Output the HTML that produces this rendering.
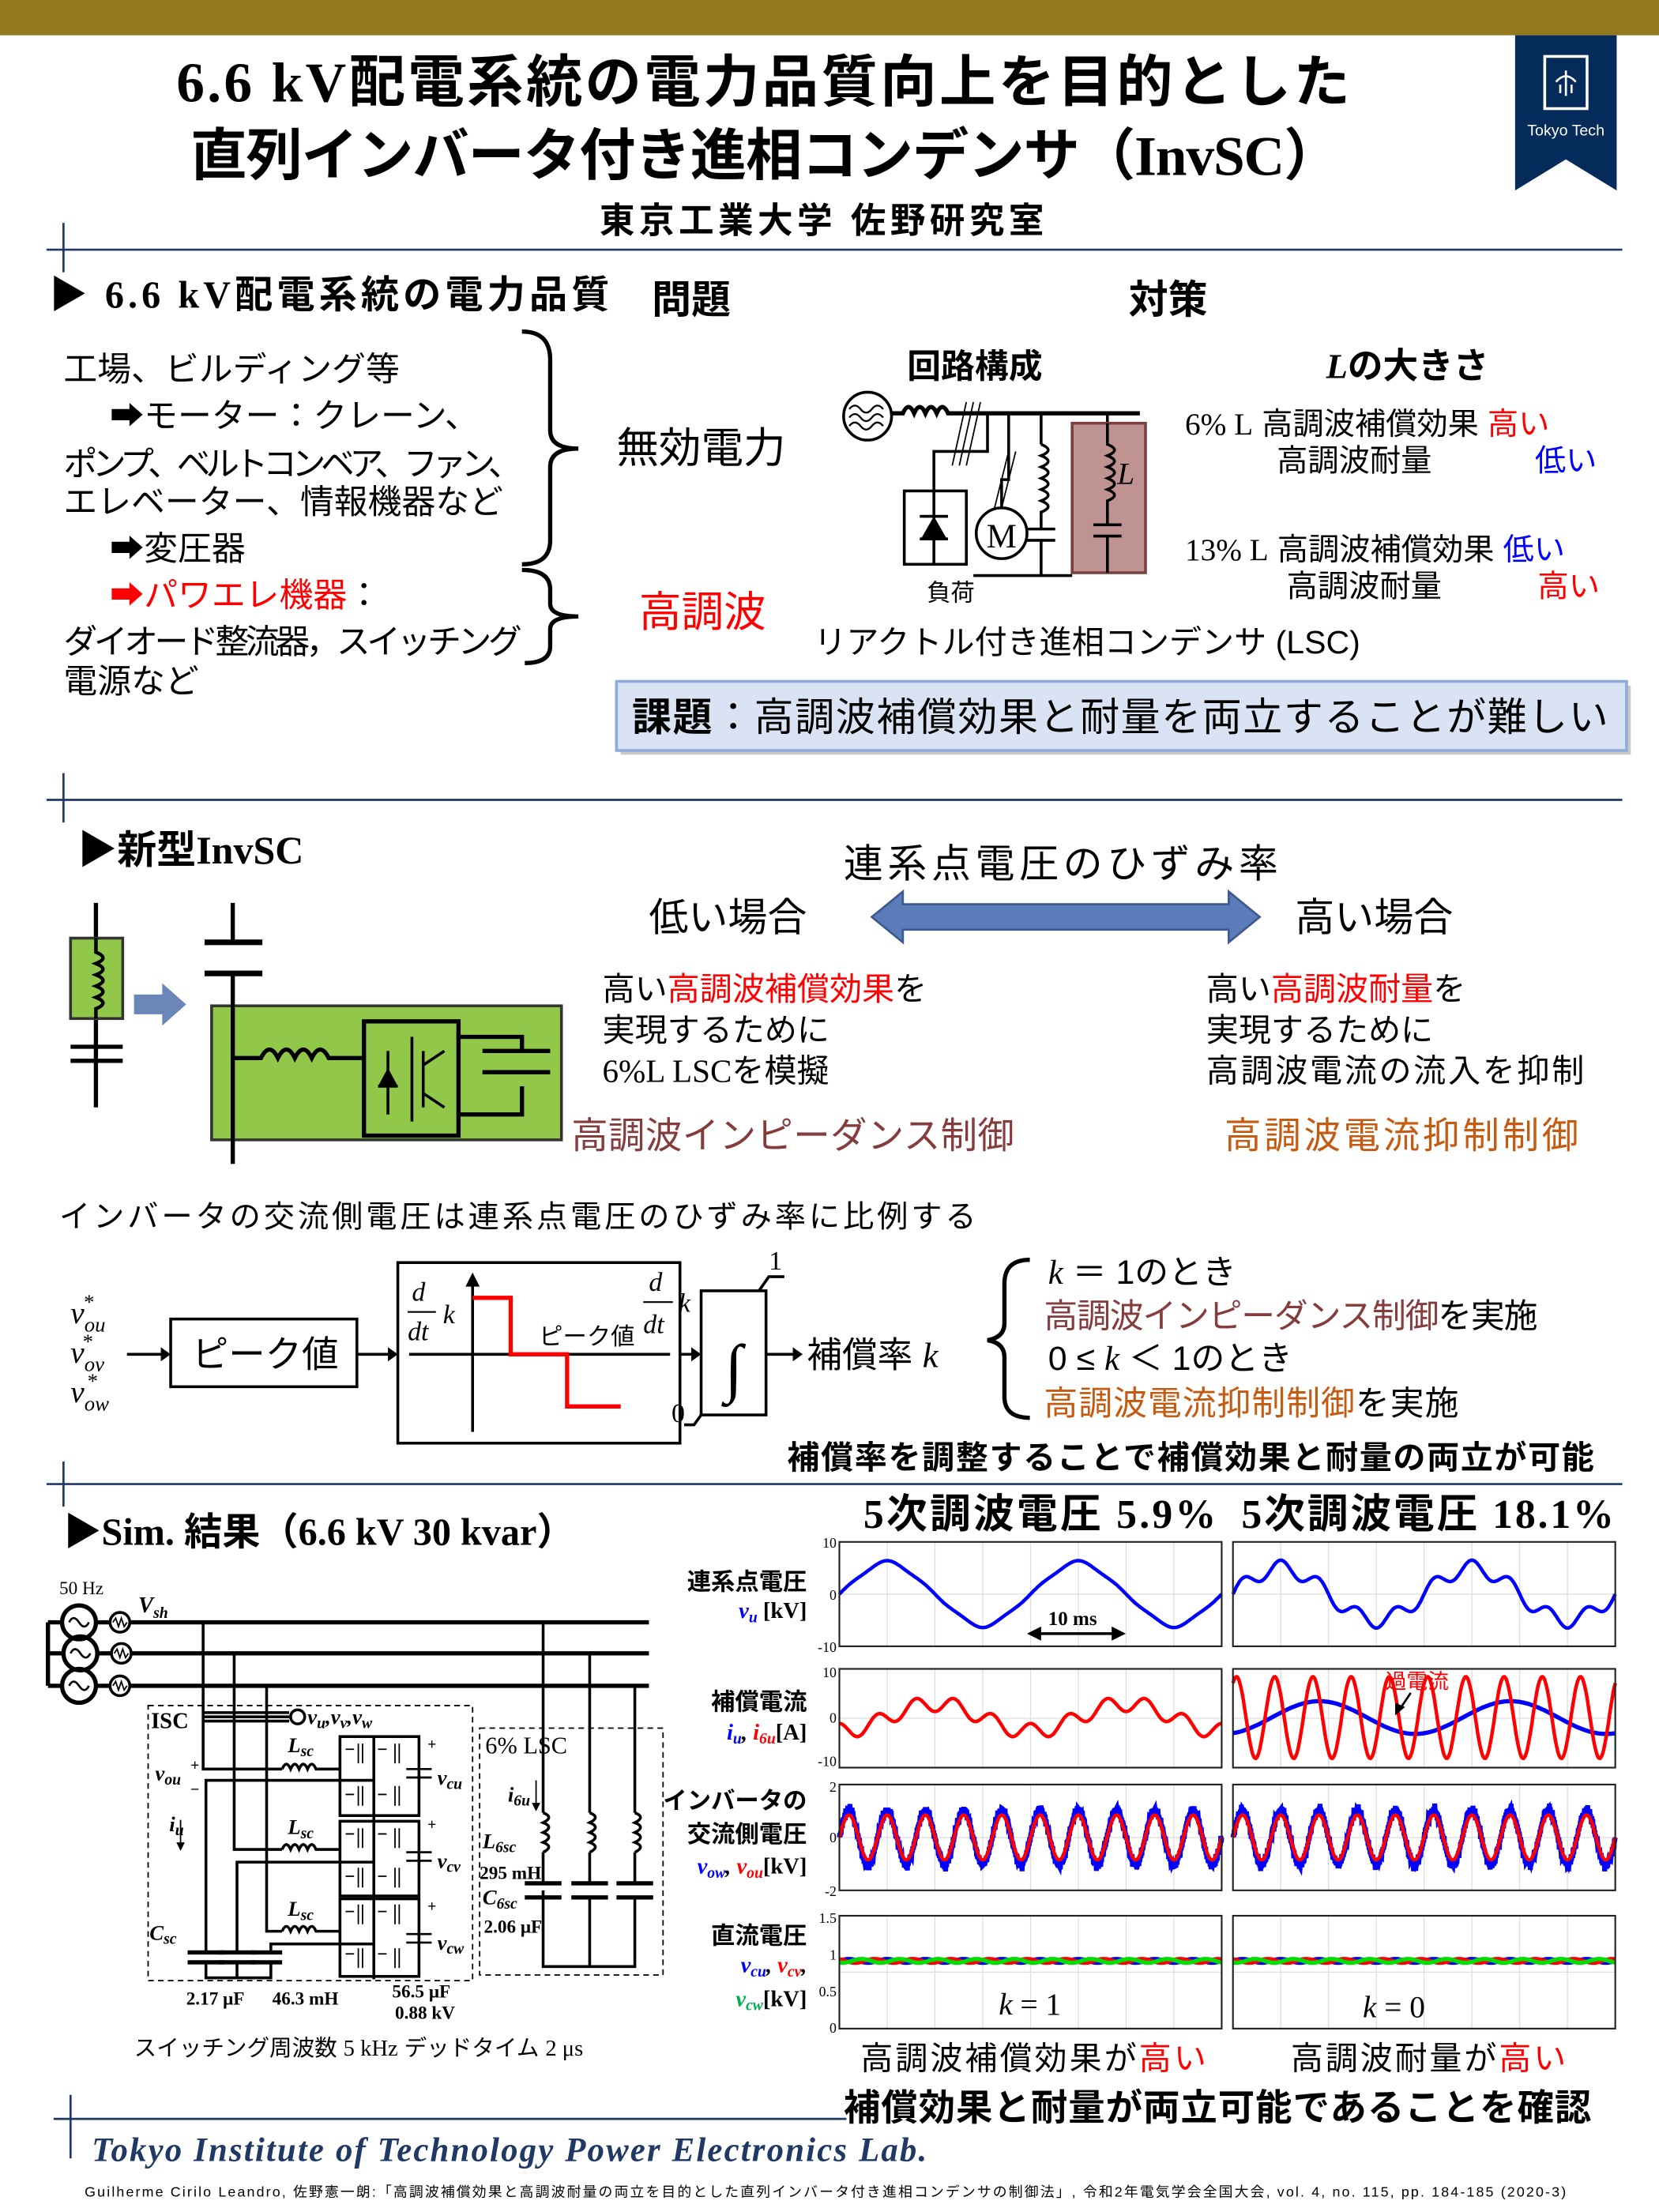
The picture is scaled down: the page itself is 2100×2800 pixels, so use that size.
<!DOCTYPE html>
<html><head><meta charset="utf-8"><style>
html,body{margin:0;padding:0;background:#fff;}
svg{display:block;}
.j{font-family:"Liberation Sans","Noto Sans CJK JP",sans-serif;}
.s{font-family:"Liberation Serif","Noto Sans CJK JP",serif;}
.b{font-weight:bold;}
.i{font-style:italic;}
</style></head><body>
<svg id="root" width="2100" height="2800" viewBox="0 0 1176 1568" xmlns="http://www.w3.org/2000/svg">
<rect width="1176" height="1568" fill="#fff"/>
<rect x="0" y="0" width="1176" height="25" fill="#94781d"/>
<!-- logo -->
<polygon points="1074,25 1146,25 1146,135 1110,113 1074,135" fill="#052b5b"/>
<rect x="1095" y="40" width="30" height="37" fill="none" stroke="#fff" stroke-width="2"/>
<path d="M1110,50 L1110,68 M1103,58 Q1110,50 1117,58 M1106,60 L1106,66 M1114,60 L1114,66" stroke="#fff" stroke-width="1.5" fill="none"/>
<text x="1110" y="96" class="j" font-size="11" fill="#fff" text-anchor="middle">Tokyo Tech</text>
<!-- title -->
<text x="125" y="72" class="s b" font-size="40" textLength="832">6.6 kV配電系統の電力品質向上を目的とした</text>
<text x="135" y="124" class="s b" font-size="40" textLength="815">直列インバータ付き進相コンデンサ（InvSC）</text>
<text x="425" y="165" class="j b" font-size="25" textLength="315">東京工業大学 佐野研究室</text>
<!-- dividers -->
<g stroke="#1f3864" stroke-width="1.5">
<line x1="45" y1="158" x2="45" y2="193"/><line x1="33" y1="177" x2="1150" y2="177"/>
<line x1="45" y1="548" x2="45" y2="583"/><line x1="33" y1="567" x2="1150" y2="567"/>
<line x1="45" y1="1036" x2="45" y2="1068"/><line x1="33" y1="1052" x2="1150" y2="1052"/>
<line x1="50" y1="1485" x2="50" y2="1530"/><line x1="38" y1="1502" x2="600" y2="1502"/>
</g>
<!-- section 1 -->
<text x="35" y="218" class="s b" font-size="27" textLength="397">▶ 6.6 kV配電系統の電力品質</text>
<text x="462" y="222" class="j b" font-size="28">問題</text>
<text x="800" y="222" class="j b" font-size="28">対策</text>
<g class="j" font-size="24">
<text x="45" y="270">工場、ビルディング等</text>
<text x="78" y="303">➡モーター：クレーン、</text>
<text x="45" y="337" textLength="325">ポンプ、ベルトコンベア、ファン、</text>
<text x="45" y="364">エレベーター、情報機器など</text>
<text x="78" y="397">➡変圧器</text>
<text x="78" y="430" fill="#ff0000">➡パワエレ機器<tspan fill="#000">：</tspan></text>
<text x="45" y="463" textLength="325">ダイオード整流器，スイッチング</text>
<text x="45" y="491">電源など</text>
</g>
<path d="M370,235 Q390,235 390,255 L390,305 Q390,318 410,318 Q390,318 390,331 L390,383 Q390,400 370,400" fill="none" stroke="#000" stroke-width="3"/>
<path d="M370,404 Q390,404 390,418 L390,428 Q390,437 410,437 Q390,437 390,446 L390,458 Q390,470 372,470" fill="none" stroke="#000" stroke-width="3"/>
<text x="437" y="328" class="j" font-size="30">無効電力</text>
<text x="453" y="444" class="j" font-size="30" fill="#ff0000">高調波</text>
<!-- circuit 1 -->
<text x="643" y="268" class="j b" font-size="24">回路構成</text>
<g stroke="#000" stroke-width="2" fill="none">
<circle cx="615" cy="295" r="17"/>
<path d="M602,290 q4,-5 8,0 t8,0 t8,0 M602,296 q4,-5 8,0 t8,0 t8,0 M602,302 q4,-5 8,0 t8,0 t8,0" stroke-width="1.3"/>
<path d="M632,293 L640,293 q4,-9 8,0 q4,-9 8,0 q4,-9 8,0 q4,-9 8,0 L808,293" stroke-width="3"/>
<path d="M700,293 L700,320 L662,320 L662,348 M715,293 L715,340 L710,340 L710,360 M738,293 L738,315 M785,293 L785,300" stroke-width="2"/>
<path d="M685,285 L675,330 M690,285 L680,330 M695,285 L685,330 M715,320 L705,360 M720,320 L710,360" stroke-width="1"/>
<rect x="641" y="348" width="44" height="52"/>
<path d="M662,348 L662,400 M652,382 L672,382 M652,366 L672,366"/>
<polygon points="654,382 670,382 662,368" fill="#000"/>
<circle cx="710" cy="378" r="18"/>
<path d="M738,315 q10,4 0,8 q10,4 0,8 q10,4 0,8 q10,4 0,8 q10,4 0,8 q10,4 0,8 L738,375 M728,375 L748,375 M728,383 L748,383 M738,383 L738,408 M690,408 L760,408"/>
</g>
<text x="710" y="388" class="s" font-size="24" text-anchor="middle">M</text>
<rect x="760" y="300" width="52" height="106" fill="#c09393" stroke="#7b3f3f" stroke-width="2"/>
<g stroke="#000" stroke-width="2" fill="none">
<path d="M785,300 L785,315 q10,4 0,8 q10,4 0,8 q10,4 0,8 q10,4 0,8 q10,4 0,8 L785,372 M775,372 L795,372 M775,380 L795,380 M785,380 L785,406"/>
</g>
<text x="792" y="343" class="s i" font-size="22">L</text>
<text x="657" y="426" class="j" font-size="17">負荷</text>
<text x="577" y="463" class="j" font-size="23">リアクトル付き進相コンデンサ (LSC)</text>
<text x="940" y="268" class="j b" font-size="25"><tspan class="s i">L</tspan>の大きさ</text>
<g class="j" font-size="22">
<text x="840" y="308"><tspan class="s">6% L</tspan>  高調波補償効果 <tspan fill="#ff0000">高い</tspan></text>
<text x="905" y="334">高調波耐量</text><text x="1088" y="334" fill="#0000ff">低い</text>
<text x="840" y="397"><tspan class="s">13% L</tspan> 高調波補償効果 <tspan fill="#0000ff">低い</tspan></text>
<text x="912" y="423">高調波耐量</text><text x="1090" y="423" fill="#ff0000">高い</text>
</g>
<rect x="440" y="486" width="716" height="49" fill="#a6a6a6" opacity="0.6"/>
<rect x="437" y="483" width="716" height="49" fill="#dae3f3" stroke="#8faadc" stroke-width="2"/>
<text x="448" y="518" class="j" font-size="28" textLength="692"><tspan font-weight="bold">課題</tspan>：高調波補償効果と耐量を両立することが難しい</text>
<!-- section 2 -->
<text x="55" y="612" class="s b" font-size="28">▶新型InvSC</text>
<text x="598" y="622" class="j" font-size="28" textLength="308">連系点電圧のひずみ率</text>
<text x="460" y="660" class="j" font-size="28">低い場合</text>
<text x="918" y="660" class="j" font-size="28">高い場合</text>
<polygon points="618,650 640,632 640,641 871,641 871,632 893,650 871,668 871,659 640,659 640,668" fill="#5b7bb9" stroke="#3d5a8e" stroke-width="1.5"/>
<g class="j" font-size="23">
<text x="427" y="709">高い<tspan fill="#ff0000">高調波補償効果</tspan>を</text>
<text x="427" y="738">実現するために</text>
<text x="427" y="767"><tspan class="s">6%L LSC</tspan>を模擬</text>
<text x="855" y="709">高い<tspan fill="#ff0000">高調波耐量</tspan>を</text>
<text x="855" y="738">実現するために</text>
<text x="855" y="767" textLength="268">高調波電流の流入を抑制</text>
</g>
<text x="405" y="814" class="j" font-size="26" fill="#843c3c" textLength="314">高調波インピーダンス制御</text>
<text x="868" y="814" class="j" font-size="26" fill="#c55a11" textLength="251">高調波電流抑制制御</text>
<!-- invsc diagram -->
<g stroke="#000" stroke-width="3" fill="none">
<line x1="68" y1="640" x2="68" y2="785"/>
<line x1="50" y1="742" x2="87" y2="742"/><line x1="50" y1="752" x2="87" y2="752"/>
</g>
<rect x="50" y="665" width="37" height="57" fill="#92c84a" stroke="#333" stroke-width="2"/>
<path d="M68,665 L68,675 q10,4 0,8 q10,4 0,8 q10,4 0,8 q10,4 0,8 q10,4 0,8 L68,722" stroke="#000" stroke-width="2.5" fill="none"/>
<polygon points="95,705 115,705 115,697 132,712 115,727 115,719 95,719" fill="#6b86b8"/>
<line x1="165" y1="640" x2="165" y2="668" stroke="#000" stroke-width="3"/>
<line x1="145" y1="668" x2="186" y2="668" stroke="#000" stroke-width="4"/>
<line x1="145" y1="690" x2="186" y2="690" stroke="#000" stroke-width="4"/>
<rect x="150" y="713" width="248" height="95" fill="#92c84a" stroke="#333" stroke-width="2"/>
<g stroke="#000" stroke-width="3" fill="none">
<path d="M165,690 L165,825 M165,750 L185,750 q6,-12 12,0 q6,-12 12,0 q6,-12 12,0 q6,-12 12,0 L258,750"/>
<rect x="258" y="724" width="67" height="81"/>
<path d="M325,735 L370,735 L370,745 M325,790 L370,790 L370,770 M342,745 L390,745 M342,760 L390,760"/>
<path d="M275,745 L275,790 M268,770 L282,770 M292,735 L292,795 M300,745 L300,785 M300,755 L315,745 M300,775 L315,785" stroke-width="2"/>
</g>
<polygon points="268,770 282,770 275,757" fill="#000"/>
<text x="42" y="870" class="j" font-size="22" textLength="650">インバータの交流側電圧は連系点電圧のひずみ率に比例する</text>
<!-- block diagram -->
<g class="s i" font-size="22">
<text x="50" y="938">v<tspan font-size="15" dy="6">ou</tspan><tspan font-size="15" dx="-16" dy="-16">*</tspan></text>
<text x="50" y="966">v<tspan font-size="15" dy="6">ov</tspan><tspan font-size="15" dx="-16" dy="-16">*</tspan></text>
<text x="50" y="994">v<tspan font-size="15" dy="6">ow</tspan><tspan font-size="15" dx="-16" dy="-16">*</tspan></text>
</g>
<g stroke="#000" stroke-width="2" fill="none">
<line x1="90" y1="960" x2="114" y2="960"/>
<rect x="121" y="935" width="132" height="48"/>
<line x1="253" y1="960" x2="275" y2="960"/>
<rect x="282" y="895" width="200" height="128"/>
<line x1="335" y1="1015" x2="335" y2="910"/>
<line x1="290" y1="960" x2="475" y2="960"/>
<line x1="482" y1="960" x2="490" y2="960"/>
<rect x="497" y="915" width="46" height="88"/>
<line x1="543" y1="960" x2="562" y2="960"/>
<path d="M538,915 L545,905 L556,905 M497,1003 L492,1010 L485,1010"/>
</g>
<polygon points="275,955 282,960 275,965" /><polygon points="114,955 121,960 114,965"/>
<polygon points="490,955 497,960 490,965"/><polygon points="562,955 569,960 562,965"/>
<polygon points="330,912 335,902 340,912"/>
<path d="M335,920 L362,920 L362,960 L402,960 L402,997 L440,997" stroke="#ff0000" stroke-width="3" fill="none"/>
<g class="s i" font-size="19">
<text x="292" y="922">d</text><line x1="289" y1="930" x2="309" y2="930" stroke="#000" stroke-width="1.2"/><text x="289" y="950">dt</text><text x="314" y="938">k</text>
<text x="460" y="915">d</text><line x1="456" y1="923" x2="477" y2="923" stroke="#000" stroke-width="1.2"/><text x="456" y="945">dt</text><text x="481" y="930">k</text>
</g>
<text x="382" y="953" class="j" font-size="17">ピーク値</text>
<text x="136" y="969" class="j" font-size="26">ピーク値</text>
<text x="520" y="985" class="s i" font-size="46" text-anchor="middle">∫</text>
<text x="545" y="900" class="s" font-size="19">1</text>
<text x="476" y="1008" class="s" font-size="19">0</text>
<text x="572" y="969" class="j" font-size="25">補償率 <tspan class="s i">k</tspan></text>
<path d="M730,893 Q712,893 712,910 L712,938 Q712,948 700,950 Q712,952 712,962 L712,990 Q712,1005 730,1005" fill="none" stroke="#000" stroke-width="3"/>
<g class="j" font-size="24">
<text x="743" y="910"><tspan class="s i">k</tspan> ＝ 1のとき</text>
<text x="740" y="941" textLength="350"><tspan fill="#843c3c">高調波インピーダンス制御</tspan>を実施</text>
<text x="743" y="971">0 ≤ <tspan class="s i">k</tspan> ＜ 1のとき</text>
<text x="740" y="1003" textLength="294"><tspan fill="#c55a11">高調波電流抑制制御</tspan>を実施</text>
</g>
<text x="558" y="1041" class="j b" font-size="23" textLength="572">補償率を調整することで補償効果と耐量の両立が可能</text>
<!-- section 3 -->
<text x="45" y="1095" class="s b" font-size="27">▶Sim. 結果（6.6 kV 30 kvar）</text>
<text x="612" y="1083" class="s b" font-size="29" textLength="250">5次調波電圧 5.9%</text>
<text x="880" y="1083" class="s b" font-size="29" textLength="264">5次調波電圧 18.1%</text>
<!-- sim circuit -->
<text x="42" y="1130" class="s" font-size="13">50 Hz</text>
<text x="98" y="1143" class="s i b" font-size="16">V<tspan font-size="11" dy="4">sh</tspan></text>
<g stroke="#000" stroke-width="3" fill="none">
<line x1="34" y1="1150" x2="34" y2="1195"/>
<line x1="34" y1="1150" x2="44" y2="1150"/><line x1="34" y1="1172" x2="44" y2="1172"/><line x1="34" y1="1195" x2="44" y2="1195"/>
<circle cx="56" cy="1150" r="12"/><circle cx="57" cy="1172" r="12"/><circle cx="56" cy="1195" r="12"/>
<line x1="68" y1="1150" x2="78" y2="1150"/><line x1="69" y1="1172" x2="79" y2="1172"/><line x1="68" y1="1195" x2="78" y2="1195"/>
<circle cx="85" cy="1150" r="7" stroke-width="2"/><circle cx="86" cy="1172" r="7" stroke-width="2"/><circle cx="85" cy="1195" r="7" stroke-width="2"/>
<line x1="92" y1="1150" x2="460" y2="1150"/><line x1="93" y1="1172" x2="460" y2="1172"/><line x1="92" y1="1195" x2="460" y2="1195"/>
</g>
<g stroke="#000" stroke-width="1.5" fill="none">
<path d="M49,1150 q3,-6 7,0 t7,0 M50,1172 q3,-6 7,0 t7,0 M49,1195 q3,-6 7,0 t7,0"/>
<path d="M80,1150 l2,-3 l2,6 l2,-6 l2,6 l2,-3 M81,1172 l2,-3 l2,6 l2,-6 l2,6 l2,-3 M80,1195 l2,-3 l2,6 l2,-6 l2,6 l2,-3" stroke-width="1"/>
<rect x="105" y="1209" width="230" height="195" stroke-dasharray="4,3" stroke-width="1"/>
<rect x="340" y="1225" width="130" height="175" stroke-dasharray="4,3" stroke-width="1"/>
</g>
<g stroke="#000" stroke-width="2" fill="none">
<path d="M144,1150 L144,1254 L200,1254"/>
<path d="M166,1172 L166,1311 L200,1311"/>
<path d="M189,1195 L189,1369 L200,1369"/>
<path d="M265,1262 L146,1262 L146,1384"/>
<path d="M265,1320 L168,1320 L168,1384"/>
<path d="M265,1378 L192,1378 L192,1384"/>
<path d="M200,1254 q3,-7 6,0 q3,-7 6,0 q3,-7 6,0 q3,-7 6,0 L241,1254"/>
<path d="M200,1311 q3,-7 6,0 q3,-7 6,0 q3,-7 6,0 q3,-7 6,0 L241,1311"/>
<path d="M200,1369 q3,-7 6,0 q3,-7 6,0 q3,-7 6,0 q3,-7 6,0 L241,1369"/>
<path d="M144,1214 L205,1214 M144,1217 L205,1217 M144,1220 L205,1220"/>
<circle cx="211" cy="1217" r="5"/>
<line x1="133" y1="1384" x2="159" y2="1384" stroke-width="3"/><line x1="133" y1="1391" x2="159" y2="1391" stroke-width="3"/>
<line x1="155" y1="1384" x2="181" y2="1384" stroke-width="3"/><line x1="155" y1="1391" x2="181" y2="1391" stroke-width="3"/>
<line x1="178" y1="1384" x2="200" y2="1384" stroke-width="3"/><line x1="178" y1="1391" x2="200" y2="1391" stroke-width="3"/>
<path d="M146,1391 L146,1402 L192,1402 L192,1391 M168,1391 L168,1402"/>
<rect x="241" y="1231" width="56" height="56"/><rect x="241" y="1291" width="56" height="53"/><rect x="241" y="1346" width="56" height="55"/>
<line x1="265" y1="1231" x2="265" y2="1403"/>
<path d="M297,1231 L297,1254 M297,1260 L297,1287 M288,1254 L306,1254 M288,1260 L306,1260 M297,1291 L297,1313 M297,1319 L297,1344 M288,1313 L306,1313 M288,1319 L306,1319 M297,1346 L297,1371 M297,1377 L297,1401 M288,1371 L306,1371 M288,1377 L306,1377" stroke-width="1.5"/>
<path d="M385,1150 L385,1285 M418,1172 L418,1285 M450,1195 L450,1285 M385,1340 L385,1394 L450,1394 L450,1345 M418,1345 L418,1394"/>
<path d="M385,1285 q8,3 0,7 q8,3 0,7 q8,3 0,7 q8,3 0,7 M418,1285 q8,3 0,7 q8,3 0,7 q8,3 0,7 q8,3 0,7 M450,1285 q8,3 0,7 q8,3 0,7 q8,3 0,7 q8,3 0,7"/>
<path d="M385,1313 L385,1335 M418,1313 L418,1335 M450,1313 L450,1335"/>
<path d="M372,1335 L398,1335 M372,1345 L398,1345 M405,1335 L431,1335 M405,1345 L431,1345 M437,1335 L463,1335 M437,1345 L463,1345" stroke-width="3"/>
<path d="M380,1262 L380,1280 M128,1290 L128,1308" stroke-width="1"/>
</g>
<polygon points="377,1278 383,1278 380,1284"/><polygon points="125,1306 131,1306 128,1312"/>
<g stroke="#000" stroke-width="1" fill="none">
<path d="M245,1240 l6,0 M245,1300 l6,0 M245,1355 l6,0 M245,1272 l6,0 M245,1330 l6,0 M245,1385 l6,0 M268,1240 l6,0 M268,1272 l6,0 M268,1300 l6,0 M268,1330 l6,0 M268,1355 l6,0 M268,1385 l6,0"/>
<path d="M254,1236 L254,1250 M257,1236 L257,1250 M280,1236 L280,1250 M283,1236 L283,1250 M254,1266 L254,1280 M257,1266 L257,1280 M280,1266 L280,1280 M283,1266 L283,1280 M254,1296 L254,1310 M257,1296 L257,1310 M280,1296 L280,1310 M283,1296 L283,1310 M254,1324 L254,1338 M257,1324 L257,1338 M280,1324 L280,1338 M283,1324 L283,1338 M254,1350 L254,1364 M257,1350 L257,1364 M280,1350 L280,1364 M283,1350 L283,1364 M254,1381 L254,1395 M257,1381 L257,1395 M280,1381 L280,1395 M283,1381 L283,1395"/>
</g>
<g class="s i b" font-size="15">
<text x="218" y="1222">v<tspan font-size="11" dy="3">u</tspan><tspan dy="-3">,v</tspan><tspan font-size="11" dy="3">v</tspan><tspan dy="-3">,v</tspan><tspan font-size="11" dy="3">w</tspan></text>
<text x="204" y="1242">L<tspan font-size="11" dy="3">sc</tspan></text>
<text x="204" y="1300">L<tspan font-size="11" dy="3">sc</tspan></text>
<text x="204" y="1358">L<tspan font-size="11" dy="3">sc</tspan></text>
<text x="110" y="1262">v<tspan font-size="11" dy="3">ou</tspan></text>
<text x="120" y="1298">i<tspan font-size="11" dy="3">u</tspan></text>
<text x="106" y="1375">C<tspan font-size="11" dy="3">sc</tspan></text>
<text x="310" y="1265">v<tspan font-size="11" dy="3">cu</tspan></text>
<text x="310" y="1324">v<tspan font-size="11" dy="3">cv</tspan></text>
<text x="310" y="1382">v<tspan font-size="11" dy="3">cw</tspan></text>
<text x="360" y="1277">i<tspan font-size="11" dy="3">6u</tspan></text>
<text x="342" y="1310">L<tspan font-size="11" dy="3">6sc</tspan></text>
<text x="342" y="1350">C<tspan font-size="11" dy="3">6sc</tspan></text>
</g>
<g class="s b" font-size="13">
<text x="107" y="1225" font-size="16">ISC</text>
<text x="344" y="1243" font-size="17" font-weight="normal">6% LSC</text>
<text x="340" y="1332">295 mH</text>
<text x="343" y="1370">2.06 μF</text>
<text x="132" y="1421">2.17 μF</text>
<text x="193" y="1421">46.3 mH</text>
<text x="278" y="1416">56.5 μF</text>
<text x="280" y="1431">0.88 kV</text>
<text x="135" y="1255" font-size="11">+</text><text x="135" y="1272" font-size="11">−</text>
<text x="303" y="1240" font-size="11">+</text><text x="303" y="1297" font-size="11">+</text><text x="303" y="1355" font-size="11">+</text>
</g>
<text x="95" y="1457" class="j" font-size="16">スイッチング周波数 <tspan class="s">5 kHz</tspan>  デッドタイム <tspan class="s">2 μs</tspan></text>
<!-- plot labels -->
<g class="j b" font-size="17" text-anchor="end">
<text x="572" y="1127">連系点電圧</text>
<text x="572" y="1212">補償電流</text>
<text x="572" y="1282">インバータの</text>
<text x="572" y="1306">交流側電圧</text>
<text x="572" y="1378">直流電圧</text>
</g>
<g class="s i b" font-size="16" text-anchor="end">
<text x="572" y="1147"><tspan fill="#0000ff">v<tspan font-size="11" dy="3">u</tspan></tspan><tspan dy="-3" font-style="normal"> [kV]</tspan></text>
<text x="572" y="1233"><tspan fill="#0000ff">i<tspan font-size="11" dy="3">u</tspan></tspan><tspan dy="-3">, </tspan><tspan fill="#ff0000">i<tspan font-size="11" dy="3">6u</tspan></tspan><tspan dy="-3" font-style="normal">[A]</tspan></text>
<text x="572" y="1328"><tspan fill="#0000ff">v<tspan font-size="11" dy="3">ow</tspan></tspan><tspan dy="-3">, </tspan><tspan fill="#ff0000">v<tspan font-size="11" dy="3">ou</tspan></tspan><tspan dy="-3" font-style="normal">[kV]</tspan></text>
<text x="572" y="1398"><tspan fill="#0000ff">v<tspan font-size="11" dy="3">cu</tspan></tspan><tspan dy="-3">, </tspan><tspan fill="#ff0000">v<tspan font-size="11" dy="3">cv</tspan></tspan><tspan dy="-3">,</tspan></text>
<text x="572" y="1422"><tspan fill="#00b050">v<tspan font-size="11" dy="3">cw</tspan></tspan><tspan dy="-3" font-style="normal">[kV]</tspan></text>
</g>
<g class="s" font-size="10" text-anchor="end">
<text x="593" y="1097">10</text><text x="593" y="1134">0</text><text x="593" y="1171">-10</text>
<text x="593" y="1189">10</text><text x="593" y="1221">0</text><text x="593" y="1252">-10</text>
<text x="593" y="1270">2</text><text x="593" y="1306">0</text><text x="593" y="1344">-2</text>
<text x="593" y="1363">1.5</text><text x="593" y="1389">1</text><text x="593" y="1415">0.5</text><text x="593" y="1441">0</text>
</g>
<g id="plots"></g>
<text x="708" y="1428" class="s i" font-size="22">k <tspan font-style="normal">= 1</tspan></text>
<text x="966" y="1430" class="s i" font-size="22">k <tspan font-style="normal">= 0</tspan></text>
<text x="743" y="1152" class="s b" font-size="14">10 ms</text>
<path d="M733,1158 L793,1158" stroke="#000" stroke-width="2"/>
<polygon points="728,1158 738,1153 738,1163"/><polygon points="798,1158 788,1153 788,1163"/>
<text x="982" y="1197" class="j" font-size="15" fill="#ff0000">過電流</text>
<path d="M1000,1200 L992,1212" stroke="#000" stroke-width="1.5"/><polygon points="989,1216 989,1207 996,1210"/>
<text x="610" y="1467" class="j" font-size="23" textLength="245">高調波補償効果が<tspan fill="#ff0000">高い</tspan></text>
<text x="915" y="1467" class="j" font-size="23" textLength="195">高調波耐量が<tspan fill="#ff0000">高い</tspan></text>
<text x="598" y="1503" class="j b" font-size="26" textLength="530">補償効果と耐量が両立可能であることを確認</text>
<text x="65" y="1532" class="s b i" font-size="24" fill="#1f3864" textLength="592">Tokyo Institute of Technology Power  Electronics Lab.</text>
<text x="60" y="1557" class="j" font-size="10" textLength="1050">Guilherme Cirilo Leandro, 佐野憲一朗:「高調波補償効果と高調波耐量の両立を目的とした直列インバータ付き進相コンデンサの制御法」, 令和2年電気学会全国大会, vol. 4, no. 115, pp. 184-185 (2020-3)</text>
</svg>
<script>
(function(){
var g=document.getElementById('plots'),NS='http://www.w3.org/2000/svg';
function el(n,a){var e=document.createElementNS(NS,n);for(var k in a)e.setAttribute(k,a[k]);g.appendChild(e);return e;}
var cols=[595,874],W=271;
var rows=[[1093,1167,10,-10,1093,1167],[1183,1253,10,-10,1187,1248],[1265,1340,2,-2,1265,1340],[1358,1438,1.5,0,1358,1438]];
function path(x0,r,f,n){var d='';var N=n||400;for(var i=0;i<=N;i++){var t=i/N;var v=f(t);var y=r[4]+(r[2]-v)/(r[2]-r[3])*(r[5]-r[4]);d+=(i?'L':'M')+(x0+t*W).toFixed(1)+','+y.toFixed(1);}return d;}
var P=Math.PI*2;
for(var c=0;c<2;c++){var x0=cols[c];
 for(var r=0;r<4;r++){var R=rows[r];
  for(var k=1;k<8;k++)el('line',{x1:x0+k*W/8,y1:R[0],x2:x0+k*W/8,y2:R[1],stroke:'#ddd','stroke-width':0.7});
  el('line',{x1:x0,y1:(R[0]+R[1])/2,x2:x0+W,y2:(R[0]+R[1])/2,stroke:'#ddd','stroke-width':0.7});
 }}
function line(x0,r,f,col,w,n){el('path',{d:path(x0,rows[r],f,n),stroke:col,'stroke-width':w,fill:'none'});}
// row1
line(595,0,function(t){var a=P*2*t;return 5.9*Math.sin(a)+0.2*Math.sin(5*a)-0.3*Math.sin(3*a);},'#0000ff',2.5);
line(874,0,function(t){var a=P*2*t;return 5*Math.sin(a)+1.5*Math.sin(5*a);},'#0000ff',2.5);
// row2
function i2(t){var a=P*2*t;return -3.2*Math.cos(a)+1.8*Math.cos(5*a);}
line(595,1,i2,'#0000ff',2);
line(595,1,i2,'#ff0000',2.5);
line(874,1,function(t){var a=P*2*t;return -3.8*Math.cos(a+0.3);},'#0000ff',3);
line(874,1,function(t){var a=P*2*t;return 9.5*Math.sin(5*a+1.0);},'#ff0000',2.5);
// row3
for(var c=0;c<2;c++){var x0=cols[c];
 line(x0,2,function(t){var a=P*10*t;return 1.05*Math.sin(a)+0.25*Math.sin(37*a)*Math.random();},'#0000ff',3.5,900);
 line(x0,2,function(t){var a=P*10*t;return 0.85*Math.sin(a);},'#ff0000',2.5);
 var cs=['#0000ff','#ff0000','#00dd00'];
 for(var j=0;j<3;j++)(function(j){line(x0,3,function(tt){return 0.9+0.025*Math.sin(P*10*tt+j*2.1);},cs[j],3);})(j);
}
for(var c=0;c<2;c++)for(var r=0;r<4;r++){var R=rows[r];el('rect',{x:cols[c],y:R[0],width:W,height:R[1]-R[0],fill:'none',stroke:'#222','stroke-width':1.2});}
})();
</script>
</body></html>
